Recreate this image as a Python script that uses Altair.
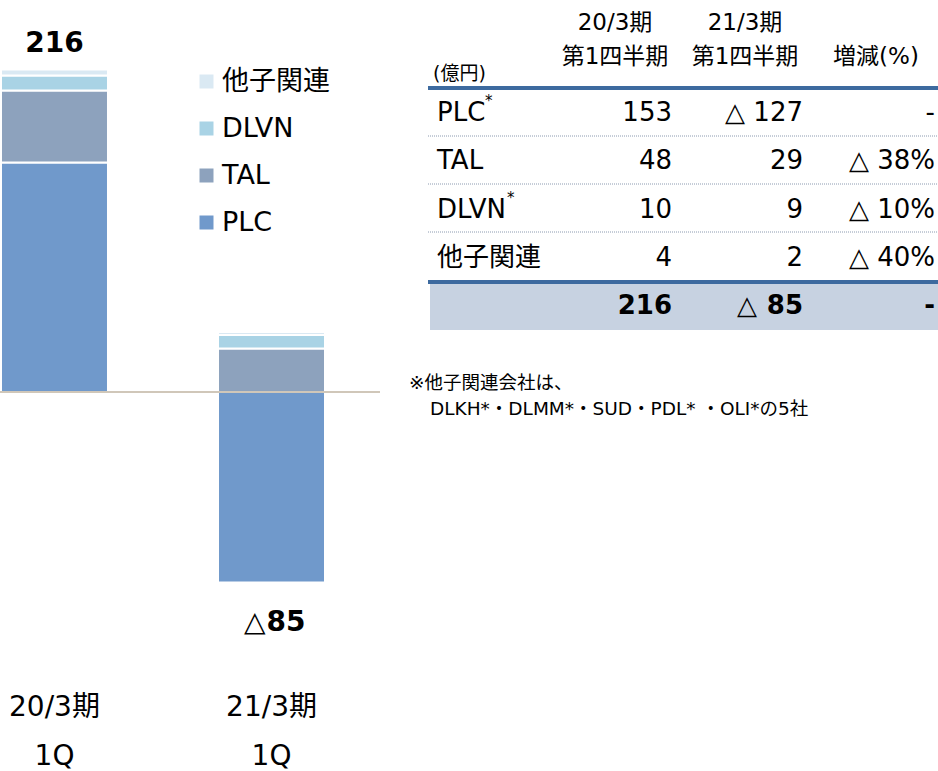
import altair as alt
import pandas as pd

# ---------------- data ----------------
periods = ["20/3期 1Q", "21/3期 1Q"]
period_line1 = ["20/3期", "21/3期"]
period_line2 = ["1Q", "1Q"]
series = ["PLC", "TAL", "DLVN", "他子関連"]
fy20_q1 = [153, 48, 10, 4]
fy21_q1 = [-127, 29, 9, 2]
totals = [216, -85]
change_pct = ["-", "△ 38%", "△ 10%", "△ 40%"]
total_change = "-"
header_years = ["20/3期", "21/3期"]
header_quarters = ["第1四半期", "第1四半期"]
change_header = "増減(%)"
unit_label = "(億円)"
starred = ["PLC", "DLVN"]
legend_order = ["他子関連", "DLVN", "TAL", "PLC"]
colors = ["#DAE9F3", "#A9D3E5", "#8DA2BD", "#7099CB"]
footnote = ["※他子関連会社は、", "DLKH*・DLMM*・SUD・PDL* ・OLI*の5社"]

FONT = "DejaVu Sans, Noto Sans CJK JP"


def fmt(v):
    return "△ " + str(abs(v)) if v < 0 else str(v)


# ---------------- tables ----------------
bar_rows = []
for p, vals in zip(periods, [fy20_q1, fy21_q1]):
    for i, (s, v) in enumerate(zip(series, vals)):
        bar_rows.append({"period": p, "series": s, "value": v, "order": i})
bar_df = pd.DataFrame(bar_rows)

tot_df = pd.DataFrame({
    "period": periods,
    "total": totals,
    "abs_total": [str(abs(t)) for t in totals],
    "line1": period_line1,
    "line2": period_line2,
})

row_keys = series + ["合計"]
table_df = pd.DataFrame({
    "row": series,
    "label": series,
    "c1": [fmt(v) for v in fy20_q1],
    "c2": [fmt(v) for v in fy21_q1],
    "c3": change_pct,
    "star": ["*" if s in starred else "" for s in series],
})
total_row = pd.DataFrame({
    "row": ["合計"],
    "c1": [str(totals[0])],
    "c2_num": [str(abs(totals[1]))],
    "c2_sign": ["△" if totals[1] < 0 else ""],
    "c3": [total_change],
})

# ---------------- scales ----------------
XS = alt.Scale(domain=periods, range=[1, 325], paddingInner=0.507, paddingOuter=0)
YS = alt.Scale(domain=[-200, 250], range=[692, 17], nice=False, zero=False)
RS = alt.Scale(type="point", domain=row_keys, range=[113, 306], padding=0)

# ---------------- bar chart ----------------
bars = alt.Chart(bar_df).mark_bar(stroke="white", strokeWidth=2).encode(
    x=alt.X("period:N", scale=XS, axis=None),
    y=alt.Y("value:Q", scale=YS, axis=None, stack="zero"),
    color=alt.Color(
        "series:N",
        scale=alt.Scale(domain=legend_order, range=colors),
        legend=alt.Legend(
            title=None, orient="none", legendX=193, legendY=68,
            symbolType="square", symbolSize=196, symbolStrokeWidth=0,
            symbolOpacity=1, labelFontSize=27, labelFont=FONT,
            labelColor="black", labelOffset=2, rowPadding=19, padding=0,
        ),
    ),
    order=alt.Order("order:Q", sort="ascending"),
)

baseline = alt.Chart(pd.DataFrame({"v": [0]})).mark_rule(
    color="#C0B4A2", strokeWidth=1.5
).encode(
    y=alt.Y("v:Q", scale=YS, axis=None), x=alt.value(0), x2=alt.value(380)
)

pos_label = alt.Chart(tot_df).transform_filter("datum.total > 0").mark_text(
    font=FONT, fontSize=28, fontWeight="bold", color="black", baseline="middle"
).encode(x=alt.X("period:N", scale=XS, axis=None), y=alt.value(44), text="abs_total:N")

neg_sign = alt.Chart(tot_df).transform_filter("datum.total < 0").mark_text(
    font=FONT, fontSize=28, color="black", baseline="middle", align="right", dx=-6
).encode(x=alt.X("period:N", scale=XS, axis=None), y=alt.value(623), text=alt.value("△"))

neg_num = alt.Chart(tot_df).transform_filter("datum.total < 0").mark_text(
    font=FONT, fontSize=28, fontWeight="bold", color="black", baseline="middle",
    align="left", dx=-5
).encode(x=alt.X("period:N", scale=XS, axis=None), y=alt.value(623), text="abs_total:N")

cat1 = alt.Chart(tot_df).mark_text(
    font=FONT, fontSize=28, color="black", baseline="middle"
).encode(x=alt.X("period:N", scale=XS, axis=None), y=alt.value(708), text="line1:N")

cat2 = alt.Chart(tot_df).mark_text(
    font=FONT, fontSize=28, color="black", baseline="middle"
).encode(x=alt.X("period:N", scale=XS, axis=None), y=alt.value(757), text="line2:N")

# ---------------- table ----------------
one = pd.DataFrame({"a": [0]})
bg = alt.Chart(one).mark_rect(color="#C7D2E1").encode(
    x=alt.value(430), x2=alt.value(938), y=alt.value(284), y2=alt.value(330)
)
thick_lines = [
    alt.Chart(one).mark_rule(color="#3D6A9F", strokeWidth=4).encode(
        x=alt.value(428), x2=alt.value(938), y=alt.value(yy)
    )
    for yy in [88, 282]
]
dotted_lines = [
    alt.Chart(one).mark_rule(color="#8C9AB0", strokeWidth=1, strokeDash=[1, 1]).encode(
        x=alt.value(428), x2=alt.value(938), y=alt.value(yy)
    )
    for yy in [136, 184, 232]
]

hdr_df = pd.DataFrame({"yr": header_years, "q": header_quarters})
hdr_layers = []
for i, cx in enumerate([615, 745]):
    d = hdr_df.iloc[[i]]
    hdr_layers.append(alt.Chart(d).mark_text(font=FONT, fontSize=23, color="black", baseline="middle").encode(
        x=alt.value(cx), y=alt.value(23), text="yr:N"))
    hdr_layers.append(alt.Chart(d).mark_text(font=FONT, fontSize=23, color="black", baseline="middle").encode(
        x=alt.value(cx), y=alt.value(57), text="q:N"))
hdr_layers.append(alt.Chart(pd.DataFrame({"t": [change_header]})).mark_text(
    font=FONT, fontSize=23, color="black", baseline="middle").encode(
    x=alt.value(876), y=alt.value(57), text="t:N"))
hdr_layers.append(alt.Chart(pd.DataFrame({"t": [unit_label]})).mark_text(
    font=FONT, fontSize=19, color="black", baseline="middle", align="left").encode(
    x=alt.value(433), y=alt.value(74), text="t:N"))


def col(field, xpx, align, df=table_df, weight="normal", size=26):
    return alt.Chart(df).mark_text(
        font=FONT, fontSize=size, color="black", baseline="middle", align=align,
        fontWeight=weight
    ).encode(x=alt.value(xpx), y=alt.Y("row:N", scale=RS, axis=None), text=f"{field}:N")


tbl_label = col("label", 437, "left")
tbl_c1 = col("c1", 672, "right")
tbl_c2 = col("c2", 803, "right")
tbl_c3 = col("c3", 935, "right")

star_plc = alt.Chart(table_df).transform_filter("datum.row == 'PLC'").mark_text(
    font=FONT, fontSize=15, color="black", baseline="middle", align="left", dy=-12
).encode(x=alt.value(485), y=alt.Y("row:N", scale=RS, axis=None), text="star:N")
star_dlvn = alt.Chart(table_df).transform_filter("datum.row == 'DLVN'").mark_text(
    font=FONT, fontSize=15, color="black", baseline="middle", align="left", dy=-12
).encode(x=alt.value(507), y=alt.Y("row:N", scale=RS, axis=None), text="star:N")

tot_c1 = col("c1", 672, "right", df=total_row, weight="bold")
tot_c2n = col("c2_num", 803, "right", df=total_row, weight="bold")
tot_c2s = col("c2_sign", 757, "right", df=total_row)
tot_c3 = col("c3", 935, "right", df=total_row, weight="bold")

# ---------------- footnote ----------------
fn_df = pd.DataFrame({"t": footnote})
fn1 = alt.Chart(fn_df.iloc[[0]]).mark_text(
    font=FONT, fontSize=18.5, color="black", baseline="middle", align="left"
).encode(x=alt.value(409), y=alt.value(383), text="t:N")
fn2 = alt.Chart(fn_df.iloc[[1]]).mark_text(
    font=FONT, fontSize=18.5, color="black", baseline="middle", align="left"
).encode(x=alt.value(430), y=alt.value(409), text="t:N")

chart = alt.layer(
    bars, baseline, pos_label, neg_sign, neg_num, cat1, cat2,
    bg, *thick_lines, *dotted_lines, *hdr_layers,
    tbl_label, tbl_c1, tbl_c2, tbl_c3, star_plc, star_dlvn,
    tot_c1, tot_c2n, tot_c2s, tot_c3, fn1, fn2,
).resolve_scale(y="independent").properties(
    width=938, height=771, autosize=alt.AutoSizeParams(type="none"), padding=0,
    background="white",
).configure_view(stroke=None)

chart.save("out.html", embed_options={"renderer": "svg", "actions": False})
